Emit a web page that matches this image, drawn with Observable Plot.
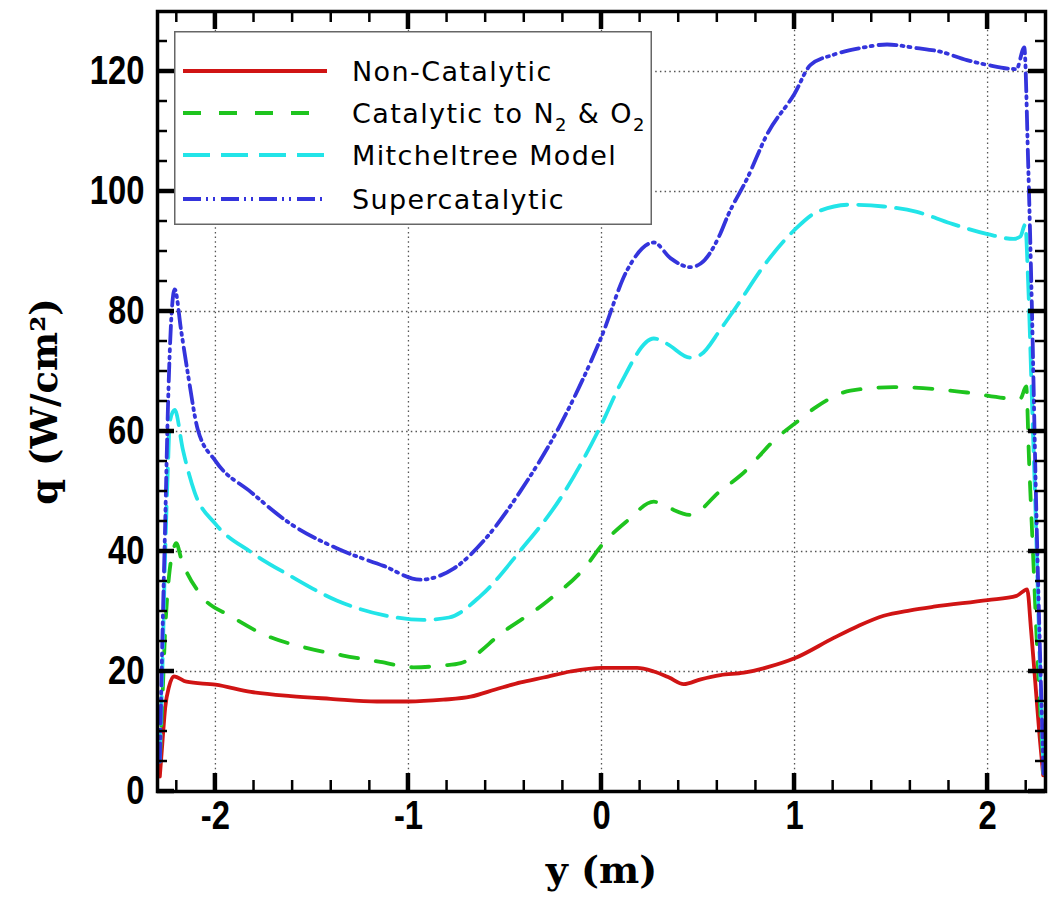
<!DOCTYPE html>
<html><head><meta charset="utf-8">
<script src="https://cdn.jsdelivr.net/npm/d3@7"></script>
<script src="https://cdn.jsdelivr.net/npm/@observablehq/plot@0.6"></script>
<style>
body{margin:0;background:#fff;}
#wrap{position:relative;width:1051px;height:900px;}
#legend{position:absolute;left:174px;top:31px;}
#ticks{position:absolute;left:0;top:0;pointer-events:none;}
</style></head><body><div id="wrap"></div>
<script>
// ---- data ----
const seriesNames = ["Non-Catalytic", "Catalytic to N2 & O2", "Mitcheltree Model", "Supercatalytic"];
const seriesColors = ["#d01414", "#1ec41e", "#22e4e8", "#3434dc"];
const seriesDash = [null, "18,18", "27,11", "18,5,2,5,2,6"];

const nonCatY = [-2.288,-2.275,-2.26,-2.24,-2.215,-2.15,-2.0,-1.816,-1.61,-1.404,-1.163,-1.0,-0.82,-0.678,-0.55,-0.419,-0.3,-0.16,0,0.184,0.271,0.35,0.426,0.514,0.616,0.738,0.87,1.0,1.203,1.33,1.462,1.6,1.721,2.0,2.15,2.205,2.225,2.25,2.27,2.288];
const nonCatQ = [2.5,8,14,17.5,19.2,18.3,17.8,16.6,15.9,15.45,15.0,15.0,15.3,15.8,17,18.2,19.0,20.0,20.6,20.6,20.0,19.0,17.9,18.7,19.4,19.8,20.8,22.2,25.6,27.6,29.3,30.2,30.8,31.9,32.6,33.7,27,17,9,2.7];

const catY = [-2.288,-2.275,-2.26,-2.24,-2.22,-2.203,-2.177,-2.074,-1.919,-1.73,-1.524,-1.344,-1.146,-0.974,-0.82,-0.729,-0.505,-0.281,-0.074,0,0.133,0.271,0.34,0.46,0.616,0.721,0.91,1.0,1.117,1.29,1.514,1.721,1.893,2.134,2.17,2.2,2.215,2.235,2.255,2.275,2.29];
const catQ = [5,15,27,36,40,41.4,38.8,32.7,29.2,25.9,23.9,22.7,21.6,20.7,21.0,21.4,26.7,31.7,37.8,41.0,45.1,48.3,47.4,46.1,50.1,52.7,59.0,61.3,64.2,66.8,67.4,67.1,66.5,65.5,65.5,67.5,55,40,25,12,3];

const mitY = [-2.288,-2.275,-2.26,-2.245,-2.237,-2.211,-2.168,-2.108,-2.0,-1.816,-1.61,-1.369,-1.129,-0.923,-0.79,-0.626,-0.419,-0.212,0,0.098,0.271,0.34,0.46,0.514,0.616,0.686,0.859,1.0,1.117,1.29,1.462,1.634,1.807,2.0,2.134,2.17,2.195,2.21,2.23,2.25,2.27,2.29];
const mitQ = [5,20,40,55,61.5,63.6,56.9,49.9,44.6,39.9,35.9,31.8,29.4,28.6,29.0,32.6,40.2,48.9,61.2,67.9,75.5,74.6,72.3,72.8,77.0,80.2,88.4,93.6,96.6,97.8,97.5,96.6,94.7,92.9,92.1,92.5,94.5,85,65,45,22,3];

const supY = [-2.288,-2.275,-2.26,-2.245,-2.23,-2.211,-2.177,-2.143,-2.091,-2.0,-1.816,-1.61,-1.369,-1.129,-0.94,-0.764,-0.591,-0.419,-0.212,0,0.133,0.271,0.357,0.46,0.514,0.616,0.652,0.755,0.859,1.0,1.083,1.203,1.341,1.479,1.634,1.755,1.893,2.0,2.15,2.19,2.21,2.23,2.25,2.27,2.29];
const supQ = [5,25,45,65,78,83.7,76.7,69.7,60.3,55.1,49.9,44.6,40.5,37.6,35.3,37.2,42.5,50.1,61.2,75.8,86.9,91.5,88.9,87.4,88.0,93.0,95.8,102.2,109.6,116.3,121.1,122.8,123.9,124.5,123.9,123.3,121.9,121.1,120.4,124,105,80,50,25,3];

const xMajorTicks = [-2, -1, 0, 1, 2];
const xTickLabels = ["-2", "-1", "0", "1", "2"];
const xMinorTicks = [-2.2,-1.8,-1.6,-1.4,-1.2,-0.8,-0.6,-0.4,-0.2,0.2,0.4,0.6,0.8,1.2,1.4,1.6,1.8,2.2];
const yMajorTicks = [0, 20, 40, 60, 80, 100, 120];
const yTickLabels = ["0", "20", "40", "60", "80", "100", "120"];
const yMinorTicks = [5,10,15,25,30,35,45,50,55,65,70,75,85,90,95,105,110,115,125];
const xLabel = "y (m)";
const yLabel = "q (W/cm²)";

// ---- build ----
const W = 1051, H = 900, mL = 157, mT = 11, mR = 6, mB = 109;

const seriesY = [nonCatY, catY, mitY, supY];
const seriesQ = [nonCatQ, catQ, mitQ, supQ];
const rows = seriesNames.map((name, i) => seriesY[i].map((y, j) => ({series: name, y, q: seriesQ[i][j]})));

const tickFont = "'Liberation Sans',Arial,sans-serif";
const labelFont = "'DejaVu Serif','Liberation Serif',serif";
const gridStyle = {stroke: "#555", strokeOpacity: 1, strokeDasharray: "1.5,3.2", strokeWidth: 1.3};

const lineMarks = rows.map((data, i) => Plot.line(data, {
  x: "y", y: "q", stroke: seriesColors[i], strokeWidth: 3.8,
  strokeDasharray: seriesDash[i] || undefined, curve: "monotone-x"
}));

const chart = Plot.plot({
  width: W, height: H,
  marginLeft: mL, marginTop: mT, marginRight: mR, marginBottom: mB,
  x: {domain: [-2.3, 2.3]},
  y: {domain: [0, 130]},
  style: {background: "#fff", color: "#000", overflow: "visible"},
  marks: [
    Plot.gridX(xMajorTicks, gridStyle),
    Plot.gridY(yMajorTicks.filter(d => d > 0), gridStyle),
    ...lineMarks,
    Plot.frame({stroke: "#000", strokeWidth: 3.5}),
    Plot.axisX(xMajorTicks, {anchor: "bottom", tickSize: 0, tickPadding: 9, label: null,
      tickFormat: (d, i) => xTickLabels[i], fontSize: 40, fontWeight: "bold", fontFamily: tickFont}),
    Plot.axisY(yMajorTicks, {anchor: "left", tickSize: 0, tickPadding: 13, label: null,
      tickFormat: (d, i) => yTickLabels[i], fontSize: 40, fontWeight: "bold", fontFamily: tickFont}),
    Plot.text([xLabel], {text: d => d, frameAnchor: "bottom", dy: 91, fontSize: 38, fontWeight: "bold", fontFamily: labelFont}),
    Plot.text([yLabel], {text: d => d, frameAnchor: "left", textAnchor: "middle", dx: -112, rotate: -90, fontSize: 37, fontWeight: "bold", fontFamily: labelFont})
  ]
});
const wrap = document.getElementById("wrap");
wrap.appendChild(chart);
const svgRoot = chart.tagName.toLowerCase() === "svg" ? chart : chart.querySelector("svg");

// condense tick label glyphs horizontally (reference uses a narrow bold face)
d3.select(svgRoot).selectAll("g[aria-label='x-axis tick label'] text, g[aria-label='y-axis tick label'] text")
  .each(function() {
    const tr = this.getAttribute("transform");
    if (tr) this.setAttribute("transform", tr + " scale(0.82,1)");
    else {
      const x = +this.getAttribute("x") || 0;
      this.setAttribute("transform", `translate(${x},0) scale(0.82,1) translate(${-x},0)`);
    }
  });

// ---- inward tick marks on all four sides (overlay), positioned with Plot's own scales ----
const sx = chart.scale("x"), sy = chart.scale("y");
const fx = d3.scaleLinear(sx.domain, sx.range);
const fy = d3.scaleLinear(sy.domain, sy.range);
const edgeL = mL, edgeR = W - mR, edgeT = mT, edgeB = H - mB;
const ov = d3.select(wrap).append("svg").attr("id", "ticks").attr("width", W).attr("height", H);
const addTick = (x1, y1, x2, y2, w) => ov.append("line")
  .attr("x1", x1).attr("y1", y1).attr("x2", x2).attr("y2", y2)
  .attr("stroke", "#000").attr("stroke-width", w).attr("stroke-linecap", "butt");
for (const [vals, len, w] of [[xMajorTicks, 18, 4.5], [xMinorTicks, 11, 2.5]]) {
  for (const v of vals) {
    const px = fx(v);
    addTick(px, edgeB, px, edgeB - len, w);
    addTick(px, edgeT, px, edgeT + len, w);
  }
}
for (const [vals, len, w] of [[yMajorTicks, 17, 4.5], [yMinorTicks, 10, 2.5]]) {
  for (const v of vals) {
    const py = fy(v);
    addTick(edgeL, py, edgeL + len, py, w);
    addTick(edgeR, py, edgeR - len, py, w);
  }
}

// ---- legend overlay ----
const lg = d3.select(wrap).append("svg").attr("id", "legend")
  .attr("width", 478).attr("height", 194);
lg.append("rect").attr("x", 0.75).attr("y", 0.75).attr("width", 476.5).attr("height", 192.5)
  .attr("fill", "#fff").attr("stroke", "#666").attr("stroke-width", 1.5);
const rowY = [40, 82, 124, 168];
seriesNames.forEach((name, i) => {
  lg.append("line").attr("x1", 9).attr("x2", 153).attr("y1", rowY[i]).attr("y2", rowY[i])
    .attr("stroke", seriesColors[i]).attr("stroke-width", 4)
    .attr("stroke-dasharray", seriesDash[i]);
  const t = lg.append("text").attr("x", 178).attr("y", rowY[i] + 10)
    .attr("font-family", "'DejaVu Sans','Liberation Sans',sans-serif").attr("font-size", 27)
    .attr("letter-spacing", 1.4).attr("fill", "#000");
  if (name.includes("N2")) {
    let sub = false;
    name.split(/(2)/).forEach(p => {
      if (p === "2") {
        t.append("tspan").attr("font-size", 18).attr("dy", 8).text("2");
        sub = true;
      } else if (p.length) {
        t.append("tspan").attr("dy", sub ? -8 : 0).text(p);
        sub = false;
      }
    });
  } else {
    t.text(name);
  }
});
</script></body></html>
